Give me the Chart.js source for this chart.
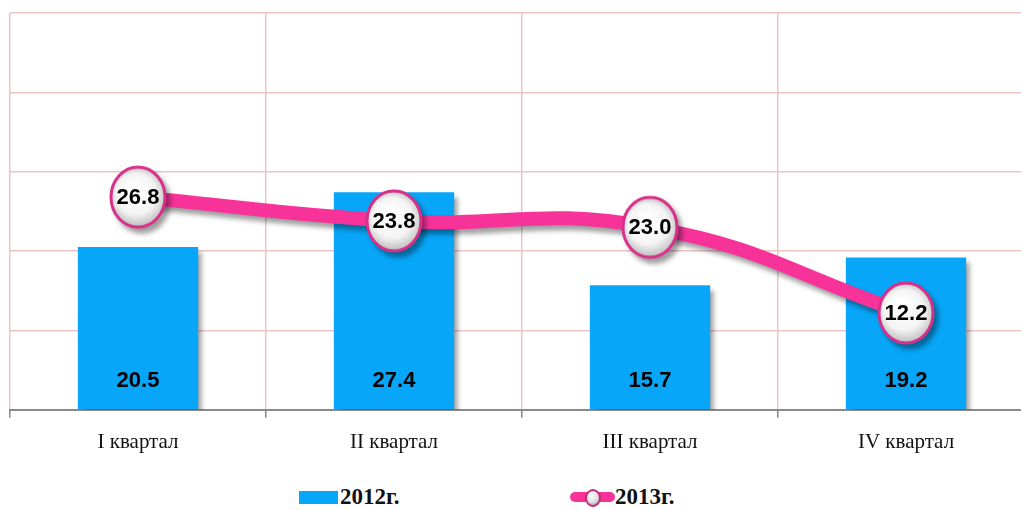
<!DOCTYPE html>
<html>
<head>
<meta charset="utf-8">
<script src="https://cdn.jsdelivr.net/npm/chart.js@4"></script>
<style>
  html, body { margin: 0; padding: 0; background: #fff; overflow: hidden; width: 1021px; height: 510px; }
  #wrap { position: absolute; left: 0; top: 0; width: 1034px; height: 467px; }
  .legend { position: absolute; top: 484px; font: bold 23px "Liberation Serif", "Times New Roman", serif; color: #111; white-space: nowrap; }
  .box { display: inline-block; width: 39px; height: 13px; background: #08a6f8; vertical-align: 0px; margin-right: 2px; }
  .lineKey { display: inline-block; position: relative; width: 45px; height: 14px; vertical-align: 0px; }
  .lineKey .seg { position: absolute; left: 0; top: 2px; width: 45px; height: 10px; border-radius: 5px; background: #f7339a; }
  .lineKey .dot { position: absolute; left: 15px; top: -1px; width: 12px; height: 14px; border-radius: 50%; border: 2px solid #c42a7c;
    background: radial-gradient(circle at 40% 35%, #fff 0%, #ddd 55%, #888 100%); }
</style>
</head>
<body>
<div id="wrap"><canvas id="qChart" width="1034" height="467"></canvas></div>
<div class="legend" style="left:299px"><span class="box"></span>2012г.</div>
<div class="legend" style="left:570px"><span class="lineKey"><span class="seg"></span><span class="dot"></span></span>2013г.</div>
<script>
const quarters = ['I квартал', 'II квартал', 'III квартал', 'IV квартал'];
const values2012 = [20.5, 27.4, 15.7, 19.2];
const values2013 = [26.8, 23.8, 23.0, 12.2];
const seriesNames = ['2012г.', '2013г.'];

// marker image for the 2013 points
function makeMarker() {
    const c = document.createElement('canvas');
    c.width = 60; c.height = 66;
    const g = c.getContext('2d');
    const grad = g.createRadialGradient(25, 25, 4, 30, 33, 31);
    grad.addColorStop(0, '#ffffff');
    grad.addColorStop(0.6, '#f4f4f4');
    grad.addColorStop(1, '#b8b8b8');
    g.beginPath();
    g.ellipse(30, 33, 27, 30, 0, 0, Math.PI * 2);
    g.fillStyle = grad;
    g.fill();
    g.lineWidth = 3;
    g.strokeStyle = '#d8308a';
    g.stroke();
    return c;
}
const marker = makeMarker();

const shadowPlugin = {
    id: 'shadow',
    beforeDatasetDraw(chart, args) {
        const ctx = chart.ctx;
        ctx.save();
        ctx.shadowColor = 'rgba(0,0,0,0.38)';
        ctx.shadowBlur = 5;
        ctx.shadowOffsetX = 4;
        ctx.shadowOffsetY = 5;
    },
    afterDatasetDraw(chart) {
        chart.ctx.restore();
    }
};

const labelPlugin = {
    id: 'valueLabels',
    afterDatasetsDraw(chart) {
        const ctx = chart.ctx;
        ctx.save();
        ctx.font = 'bold 22px "Liberation Sans", Arial, sans-serif';
        ctx.fillStyle = '#000';
        ctx.textAlign = 'center';
        ctx.textBaseline = 'middle';
        chart.getDatasetMeta(0).data.forEach((bar, i) => {
            ctx.fillText(values2012[i].toFixed(1), bar.x, bar.base - 28);
        });
        chart.getDatasetMeta(1).data.forEach((pt, i) => {
            ctx.fillText(values2013[i].toFixed(1), pt.x, pt.y + 1);
        });
        ctx.restore();
    }
};

const ctx = document.getElementById('qChart').getContext('2d');
new Chart(ctx, {
    type: 'bar',
    data: {
        labels: quarters,
        datasets: [{
            label: seriesNames[0],
            data: values2012,
            backgroundColor: '#08a6f8',
            categoryPercentage: 1,
            barPercentage: 0.47,
            order: 2
        }, {
            type: 'line',
            label: seriesNames[1],
            data: values2013,
            borderColor: '#f7339a',
            borderWidth: 14,
            tension: 0.45,
            pointStyle: marker,
            pointRadius: 28,
            pointHoverRadius: 28,
            clip: false,
            order: 1
        }]
    },
    options: {
        responsive: false,
        animation: false,
        layout: { autoPadding: false, padding: { left: 10, top: 13, right: 0, bottom: 0 } },
        plugins: {
            legend: { display: false },
            tooltip: { enabled: false }
        },
        scales: {
            x: {
                grid: { color: '#ecc4c4', lineWidth: 1.5, tickColor: '#888', tickLength: 8, offset: true },
                border: { color: '#8a8a8a', width: 2 },
                ticks: {
                    color: '#111',
                    padding: 12,
                    font: { family: '"Liberation Serif", "Times New Roman", serif', size: 21 }
                }
            },
            y: {
                min: 0,
                max: 50,
                ticks: { display: false, stepSize: 10 },
                grid: { color: '#ecc4c4', lineWidth: 1.5, drawTicks: false },
                border: { display: false }
            }
        }
    },
    plugins: [shadowPlugin, labelPlugin]
});
</script>
</body>
</html>
